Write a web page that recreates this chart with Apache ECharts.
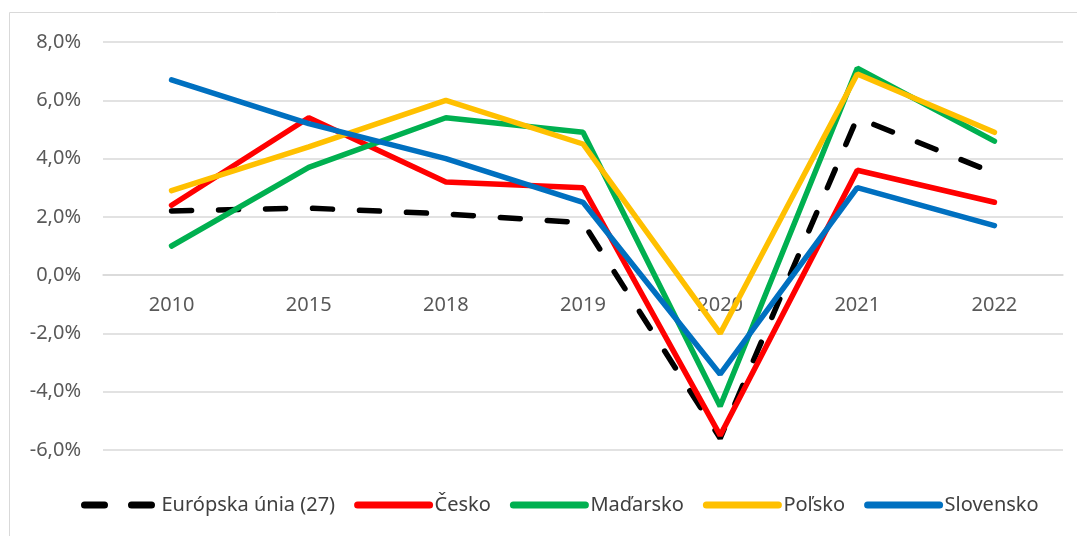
<!DOCTYPE html>
<html>
<head>
<meta charset="utf-8">
<script src="https://cdn.jsdelivr.net/npm/echarts@6/dist/echarts.min.js"></script>
<style>
html,body{margin:0;padding:0;background:#fff;}
#chart{width:1077px;height:536px;}
</style>
</head>
<body>
<div id="chart"></div>
<script>
var years = ['2010', '2015', '2018', '2019', '2020', '2021', '2022'];
var eu = [2.2, 2.3, 2.1, 1.8, -5.6, 5.4, 3.5];
var cesko = [2.4, 5.4, 3.2, 3.0, -5.5, 3.6, 2.5];
var madarsko = [1.0, 3.7, 5.4, 4.9, -4.5, 7.1, 4.6];
var polsko = [2.9, 4.4, 6.0, 4.5, -2.0, 6.9, 4.9];
var slovensko = [6.7, 5.2, 4.0, 2.5, -3.4, 3.0, 1.7];

var myChart = echarts.init(document.getElementById('chart'));

function line(name, data, color, dashed){
	return {
		name: name,
		type: 'line',
		data: data,
		symbol: 'none',
		lineStyle: {
			width: 5.5,
			color: color,
			type: dashed ? [20, 27] : 'solid',
			cap: 'round'
		},
		itemStyle: {color: color}
	};
}

var option = {
	animation: false,
	textStyle: {fontFamily: 'Noto Sans'},
	graphic: [{
		type: 'rect',
		shape: {x: 9.5, y: 12.5, width: 1100, height: 560},
		style: {fill: 'none', stroke: '#d9d9d9', lineWidth: 1}
	}],
	grid: {left: 103, right: 14, top: 42, bottom: 86},
	legend: {
		top: 490,
		left: 76,
		itemWidth: 72,
		itemHeight: 8,
		itemGap: 19,
		itemStyle: {opacity: 0},
		lineStyle: {width: 7, cap: 'round'},
		textStyle: {fontSize: 20, color: '#404040'},
		data: ['Európska únia (27)', 'Česko', 'Maďarsko', 'Poľsko', 'Slovensko']
	},
	xAxis: {
		type: 'category',
		data: years,
		boundaryGap: true,
		offset: -175,
		axisLine: {onZero: false, lineStyle: {color: '#d9d9d9', width: 1.5}},
		axisTick: {show: false},
		axisLabel: {color: '#595959', fontSize: 20, margin: 20}
	},
	yAxis: {
		type: 'value',
		min: -6,
		max: 8,
		interval: 2,
		axisLine: {show: false},
		axisTick: {show: false},
		splitLine: {lineStyle: {color: '#d9d9d9', width: 1.5}},
		axisLabel: {
			color: '#595959',
			fontSize: 20,
			margin: 22,
			formatter: function(v){ return v.toFixed(1).replace('.', ',') + '%'; }
		}
	},
	series: [
		line('Európska únia (27)', eu, '#000000', true),
		line('Česko', cesko, '#ff0000'),
		line('Maďarsko', madarsko, '#00b050'),
		line('Poľsko', polsko, '#ffc000'),
		line('Slovensko', slovensko, '#0070c0')
	]
};

myChart.setOption(option);
</script>
</body>
</html>
